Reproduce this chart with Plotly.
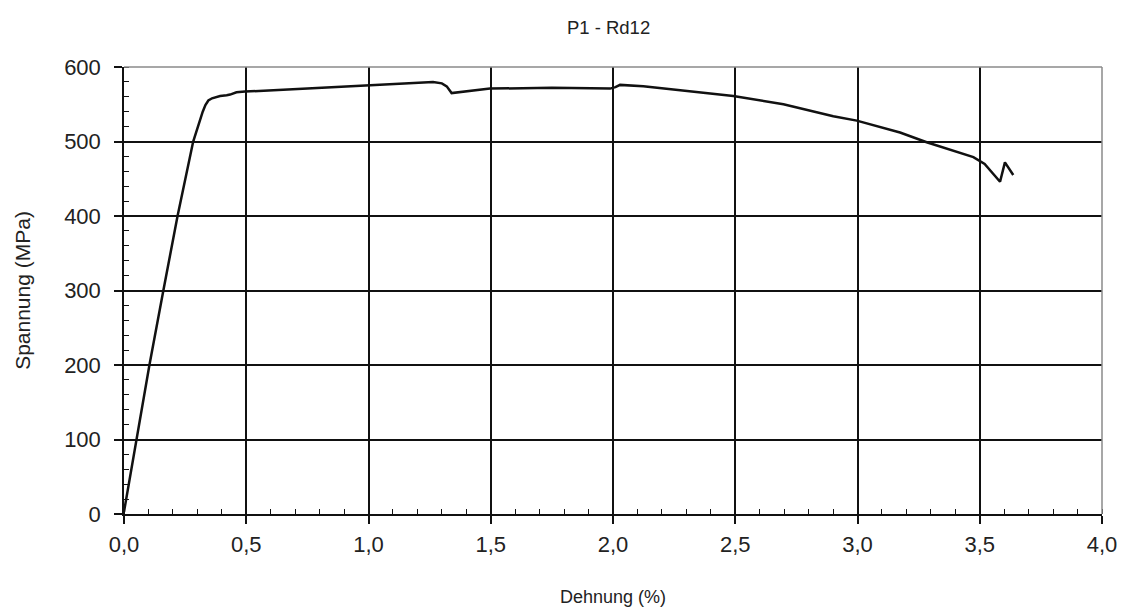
import plotly.graph_objects as go

strain = [0.0, 0.052, 0.104, 0.161, 0.219, 0.283, 0.30, 0.311, 0.322, 0.333, 0.345, 0.36,
          0.38, 0.393, 0.42, 0.434, 0.46, 0.495, 0.75, 0.993, 1.129, 1.264, 1.30, 1.32,
          1.34, 1.367, 1.388, 1.497, 1.75, 1.988, 2.01, 2.029, 2.124, 2.329, 2.492,
          2.697, 2.901, 2.997, 3.174, 3.283, 3.474, 3.52, 3.583, 3.603, 3.637]
stress = [3, 100, 200, 300, 400, 500, 518, 528, 540, 549, 555, 558,
          560, 561, 562, 563, 566, 567, 571, 575, 578, 580, 578, 574,
          565, 566, 567, 571, 572, 571, 573, 576, 574, 567, 561,
          550, 534, 528, 512, 499, 479, 470, 446, 472, 455]

x_ticks = [0, 0.5, 1.0, 1.5, 2.0, 2.5, 3.0, 3.5, 4.0]
x_labels = ["0,0", "0,5", "1,0", "1,5", "2,0", "2,5", "3,0", "3,5", "4,0"]
y_ticks = [0, 100, 200, 300, 400, 500, 600]
y_labels = ["0", "100", "200", "300", "400", "500", "600"]

fam = "Liberation Sans, Arial, sans-serif"
tickfont = dict(family=fam, size=22, color="#222222")

fig = go.Figure()
fig.add_trace(go.Scatter(x=strain, y=stress, mode="lines",
                         line=dict(color="#111111", width=2.5), showlegend=False))

fig.update_layout(
    width=1129, height=616,
    margin=dict(l=124, r=27, t=67, b=96),
    paper_bgcolor="white", plot_bgcolor="white",
    font=dict(family=fam, size=18, color="#222222"),
    title=dict(text="P1 - Rd12", x=0.539, xanchor="center", y=0.955, yanchor="middle",
               font=dict(family=fam, size=18.5, color="#222222")),
    shapes=[
        dict(type="line", xref="paper", yref="paper", x0=0, x1=1, y0=1, y1=1,
             line=dict(color="#8a8a8a", width=1.5)),
        dict(type="line", xref="paper", yref="paper", x0=1, x1=1, y0=0, y1=1,
             line=dict(color="#8a8a8a", width=1.5)),
    ],
)

fig.update_xaxes(
    range=[0, 4], tickvals=x_ticks, ticktext=x_labels,
    showgrid=True, gridcolor="#111111", gridwidth=1.5,
    showline=True, linecolor="#111111", linewidth=1.5,
    ticks="outside", ticklen=8, tickwidth=1.5, tickcolor="#111111",
    minor=dict(dtick=0.1, ticks="inside", ticklen=5, tickwidth=1.2,
               tickcolor="#111111", showgrid=False),
    zeroline=False,
    ticklabelstandoff=2,
    title=dict(text="Dehnung (%)", standoff=34, font=dict(family=fam, size=18, color="#222222")),
    tickfont=tickfont,
)
fig.update_yaxes(
    range=[0, 600], tickvals=y_ticks, ticktext=y_labels,
    showgrid=True, gridcolor="#111111", gridwidth=1.5,
    showline=True, linecolor="#111111", linewidth=1.5,
    ticks="outside", ticklen=8, tickwidth=1.5, tickcolor="#111111",
    minor=dict(dtick=20, ticks="inside", ticklen=5, tickwidth=1.2,
               tickcolor="#111111", showgrid=False),
    zeroline=False,
    ticklabelstandoff=9,
    title=dict(text="Spannung (MPa)", standoff=28, font=dict(family=fam, size=21, color="#222222")),
    tickfont=tickfont,
)

fig.write_html("out.html")
